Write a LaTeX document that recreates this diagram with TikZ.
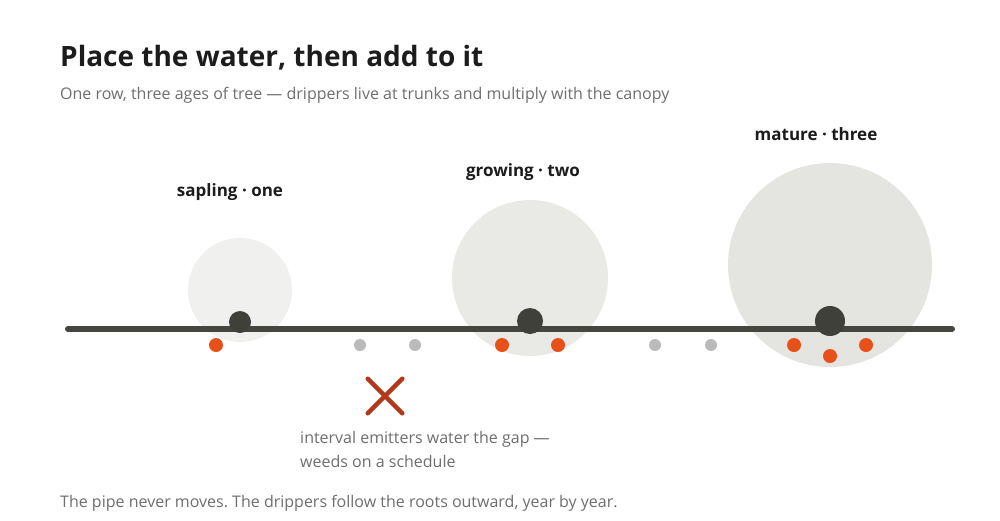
\documentclass[tikz,border=0pt]{standalone}
\usepackage{fontspec}
\setmainfont{Open Sans}
\usetikzlibrary{shapes.misc}
\definecolor{ink}{HTML}{1C1C1C}
\definecolor{muted}{HTML}{6E6E6E}
\definecolor{pipegray}{HTML}{45463F}
\definecolor{trunkgray}{HTML}{3F403A}
\definecolor{dripred}{HTML}{E8501A}
\definecolor{idlegray}{HTML}{BBBBBB}
\definecolor{crossred}{HTML}{B3381A}
\definecolor{canopyA}{HTML}{F0F0EE}
\definecolor{canopyB}{HTML}{E9E9E5}
\definecolor{canopyC}{HTML}{E4E4E0}
\frenchspacing
\begin{document}
\begin{tikzpicture}[x=1pt,y=-1pt,
    canopy/.style={circle, inner sep=0pt, minimum size=#1},
    trunk/.style={circle, fill=trunkgray, inner sep=0pt, minimum size=#1},
    drip/.style={circle, fill=dripred, inner sep=0pt, minimum size=14pt},
    idle/.style={circle, fill=idlegray, inner sep=0pt, minimum size=12pt},
    agelabel/.style={font=\bfseries\fontsize{17}{20}\selectfont, text=ink, anchor=base},
    note/.style={font=\fontsize{16}{19}\selectfont, text=muted, anchor=base west, inner sep=0pt}]
    \useasboundingbox[fill=white] (0,0) rectangle (1000,520);

    % heading
    \node[font=\bfseries\fontsize{28}{33}\selectfont, text=ink, anchor=base west, inner sep=0pt] (title) at (60,66) {Place the water, then add to it};
    \node[note] (subtitle) at (60,99) {One row, three ages of tree — drippers live at trunks and multiply with the canopy};

    % canopies
    \node[canopy=104pt, fill=canopyA] (can1) at (240,290) {};
    \node[canopy=156pt, fill=canopyB] (can2) at (530,278) {};
    \node[canopy=204pt, fill=canopyC] (can3) at (830,265) {};

    \node[agelabel] (lab1) at (230,196) {sapling · one};
    \node[agelabel] (lab2) at (523,176) {growing · two};
    \node[agelabel] (lab3) at (816,140) {mature · three};

    % the pipe
    \coordinate (pipeL) at (68,329);
    \coordinate (pipeR) at (952,329);
    \draw[pipegray, line width=6pt, line cap=round] (pipeL) -- (pipeR);

    % trunks
    \node[trunk=22pt] (trunk1) at (240,322) {};
    \node[trunk=26pt] (trunk2) at (530,321) {};
    \node[trunk=30pt] (trunk3) at (830,321) {};

    % drippers
    \node[drip] (d1) at (216,345) {};
    \node[drip] (d2a) at (502,345) {};
    \node[drip] (d2b) at (558,345) {};
    \node[drip] (d3a) at (794,345) {};
    \node[drip] (d3b) at (866,345) {};
    \node[drip] (d3c) at (830,356) {};

    % interval emitters in the gaps
    \node[idle] (g1a) at (360,345) {};
    \node[idle] (g1b) at (415,345) {};
    \node[idle] (g2a) at (655,345) {};
    \node[idle] (g2b) at (711,345) {};

    \node[cross out, draw=crossred, line width=4.5pt, line cap=round, minimum size=30pt, inner sep=0pt] (nope) at (385,396) {};
    \node[note] (gapnote1) at (300,443) {interval emitters water the gap —};
    \node[note] (gapnote2) at (300,467) {weeds on a schedule};

    \node[note] (footer) at (60,507) {The pipe never moves. The drippers follow the roots outward, year by year.};
\end{tikzpicture}
\end{document}
